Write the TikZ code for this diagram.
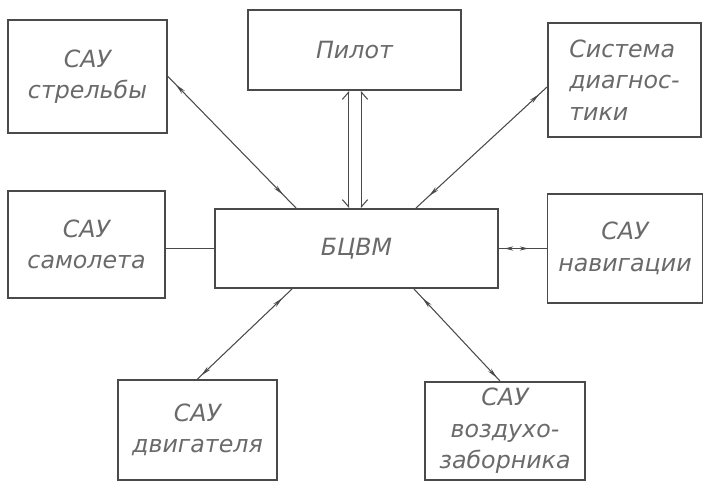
\documentclass[tikz,border=0pt]{standalone}
\usepackage{fontspec}
\setmainfont{DejaVu Sans}
\usepackage{tikz}
\usetikzlibrary{arrows.meta,decorations.markings}
\definecolor{ink}{HTML}{4A4A4A}
\definecolor{pencil}{HTML}{6A6A6A}
\def\u{0.02cm}

\begin{document}
\begin{tikzpicture}[x=\u, y=-\u,
    block/.style={draw=ink, line width=1.1pt, inner sep=0pt, text=pencil,
      font=\fontsize{13.5}{18}\selectfont\itshape, align=center},
    link/.style={draw=ink, line width=0.6pt},
    biarrow/.style={link, postaction={decorate, decoration={markings,
      mark=at position 0.12 with {\arrow{Stealth[length=6pt,width=2.4pt,reversed]}},
      mark=at position 0.9 with {\arrow{Stealth[length=6pt,width=2.4pt]}}}}}]
      \useasboundingbox (0,0) rectangle (703,482);
      % central computer
      \node[block, minimum width=283*\u, minimum height=79*\u] (bcvm) at (356.5,248.5)
        {БЦВМ};
      % subsystems round it
      \node[block, minimum width=159*\u, minimum height=113*\u] (strel) at (87.5,76.5)
        {САУ\\стрельбы};
      \node[block, minimum width=213*\u, minimum height=80*\u] (pilot) at (354.5,50)
        {Пилот};
      \node[block, minimum width=153*\u, minimum height=114*\u, align=left] (diag) at (624.5,80)
        {Система\\диагнос-\\тики};
      \node[block, minimum width=157*\u, minimum height=107*\u] (samol) at (86.5,244.5)
        {САУ\\самолета};
      \node[block, minimum width=155*\u, minimum height=109*\u] (navig) at (625,248.5)
        {САУ\\навигации};
      \node[block, minimum width=159*\u, minimum height=100*\u] (dvig) at (197.5,430)
        {САУ\\двигателя};
      \node[block, minimum width=160*\u, minimum height=98*\u] (vozd) at (505,431)
        {САУ\\воздухо-\\заборника};
      % connectors
      \draw[biarrow] (strel.east) -- ([xshift=82*\u]bcvm.north west);
      \draw[biarrow] ([yshift=-7*\u]diag.west) -- ([xshift=-83*\u]bcvm.north east);
      \draw[biarrow] (dvig.north) -- ([xshift=78*\u]bcvm.south west);
      \draw[biarrow] ([xshift=-5*\u]vozd.north) -- ([xshift=-85*\u]bcvm.south east);
      \draw[link] (bcvm.west) -- (bcvm.west -| samol.east);
      \draw[link, postaction={decorate, decoration={markings,
          mark=at position 0.3 with {\arrow{Stealth[length=5pt,width=2.4pt,reversed]}},
          mark=at position 0.62 with {\arrow{Stealth[length=5pt,width=2.4pt]}}}}]
        (bcvm.east) -- (navig.west);
      % pilot exchange: two lines
      \draw[link, {Straight Barb[harpoon, length=4pt, width=7pt]}-{Straight Barb[harpoon, swap, length=4pt, width=7pt]}]
        ([xshift=-6*\u]pilot.south) -- ([xshift=-6*\u]pilot.south |- bcvm.north);
      \draw[link, {Straight Barb[harpoon, swap, length=4pt, width=7pt]}-{Straight Barb[harpoon, length=4pt, width=7pt]}]
        ([xshift=7*\u]pilot.south) -- ([xshift=7*\u]pilot.south |- bcvm.north);
    \end{tikzpicture}
\end{document}
